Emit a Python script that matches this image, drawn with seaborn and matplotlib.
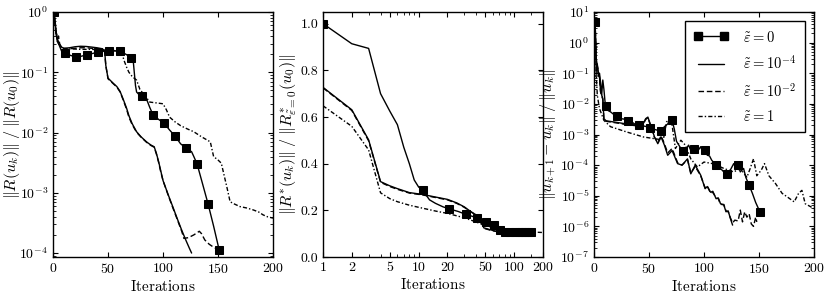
# convergence plots, three panels
import numpy as np
import pandas as pd
import seaborn as sns
import matplotlib.pyplot as plt
from matplotlib.lines import Line2D
from matplotlib.ticker import FixedLocator, NullFormatter, LogLocator, FixedFormatter

sns.set_style("ticks")
plt.rcParams.update({
    "font.family": "serif",
    "font.serif": ["cmr10", "DejaVu Serif"],
    "mathtext.fontset": "cm",
    "axes.formatter.use_mathtext": True,
    "font.size": 10,
    "axes.edgecolor": "black",
    "axes.labelcolor": "black",
    "text.color": "black",
    "xtick.color": "black",
    "ytick.color": "black",
    "axes.linewidth": 1.0,
    "xtick.direction": "in",
    "ytick.direction": "in",
    "xtick.top": True,
    "ytick.right": True,
    "xtick.major.size": 3.5,
    "ytick.major.size": 3.5,
    "xtick.minor.size": 2,
    "ytick.minor.size": 2,
    "xtick.labelsize": 10,
    "ytick.labelsize": 10,
    "axes.labelsize": 11,
})

# ---- panel 1 : ||R(u_k)|| / ||R(u_0)|| ----
p1_it_e0 = [1, 3, 5, 8, 11, 16, 21, 26, 31, 36, 41, 46, 51, 56, 61, 66, 71, 73, 75, 76, 78, 81,
            85, 88, 91, 96, 101, 106, 111, 116, 121, 126, 128, 131, 136, 141, 146, 151]
p1_e0 = [1.0, 0.45, 0.3, 0.22, 0.21, 0.19, 0.18, 0.185, 0.196, 0.205, 0.217, 0.225, 0.228, 0.226,
         0.223, 0.2, 0.175, 0.15, 0.06, 0.047, 0.043, 0.040, 0.036, 0.026, 0.0195, 0.0165, 0.0143,
         0.011, 0.0087, 0.0065, 0.0055, 0.0048, 0.004, 0.003, 0.0014, 0.00065, 0.00028, 0.000114]
p1_it_e4 = [1, 2, 3, 5, 8, 10, 15, 20, 25, 30, 35, 40, 45, 47, 48, 50, 55, 58, 61, 64, 67, 69, 72,
            76, 80, 85, 89, 92, 94, 96, 98, 100, 105, 109, 113, 117, 121, 124, 126]
p1_e4 = [1.0, 0.6, 0.4, 0.3, 0.26, 0.25, 0.255, 0.265, 0.27, 0.268, 0.262, 0.255, 0.245, 0.22,
         0.13, 0.08, 0.065, 0.058, 0.048, 0.035, 0.025, 0.019, 0.014, 0.0103, 0.0085, 0.007,
         0.0062, 0.0058, 0.0045, 0.0033, 0.0023, 0.0016, 0.0009, 0.00058, 0.00037, 0.00024,
         0.00016, 0.00012, 0.0001]
p1_it_e2 = [1, 2, 4, 5, 6, 8, 10, 15, 20, 25, 30, 35, 40, 45, 47, 48, 50, 55, 58, 61, 64, 67, 69,
            72, 76, 80, 85, 89, 92, 94, 96, 98, 100, 105, 109, 113, 117, 119, 123, 128, 133, 135,
            138, 142, 146, 151]
p1_e2 = [1.0, 0.55, 0.32, 0.4, 0.3, 0.25, 0.24, 0.245, 0.25, 0.255, 0.255, 0.25, 0.245, 0.24,
         0.215, 0.13, 0.078, 0.064, 0.057, 0.047, 0.034, 0.024, 0.018, 0.0135, 0.0101, 0.0084,
         0.0069, 0.0061, 0.0057, 0.0044, 0.0032, 0.0022, 0.0016, 0.00088, 0.00056, 0.00036,
         0.00023, 0.000175, 0.00018, 0.0002, 0.00023, 0.00021, 0.000165, 0.00014, 0.000125,
         0.000112]
p1_it_e1 = [1, 3, 5, 8, 15, 25, 35, 45, 55, 62, 65, 67, 69, 72, 76, 79, 84, 88, 94, 100, 103, 106,
            111, 116, 122, 128, 135, 143, 146, 150, 153, 156, 158, 161, 165, 170, 176, 182, 187,
            191, 195, 200]
p1_e1 = [1.0, 0.45, 0.3, 0.25, 0.245, 0.24, 0.24, 0.235, 0.23, 0.22, 0.15, 0.12, 0.10, 0.085,
         0.074, 0.052, 0.04, 0.032, 0.031, 0.030, 0.024, 0.018, 0.015, 0.013, 0.0115, 0.0103,
         0.0085, 0.007, 0.004, 0.0035, 0.0031, 0.0018, 0.00126, 0.00071, 0.00065, 0.00059,
         0.00056, 0.00052, 0.00048, 0.00043, 0.0004, 0.00038]

# ---- panel 2 : ||R*(u_k)|| / ||R*_{eps=0}(u_0)|| ----
p2_it_e0 = [1, 2, 3, 4, 5, 6, 7, 8, 9, 10, 11, 12, 13, 15, 18, 21, 26, 31, 36, 41, 46, 51, 56,
            61, 66, 71, 76, 81, 91, 101, 111, 121, 131, 141, 151]
p2_e0 = [1.0, 0.914, 0.894, 0.70, 0.625, 0.567, 0.47, 0.40, 0.33, 0.30, 0.287, 0.265, 0.245,
         0.23, 0.215, 0.206, 0.195, 0.183, 0.175, 0.167, 0.16, 0.152, 0.144, 0.136, 0.127, 0.116,
         0.109, 0.107, 0.107, 0.108, 0.108, 0.108, 0.108, 0.108, 0.108]
p2_it_e4 = [1, 2, 3, 4, 5, 6, 8, 11, 15, 20, 25, 30, 35, 42, 45, 48, 55, 62, 71, 80, 90, 100, 126]
p2_e4 = [0.727, 0.631, 0.502, 0.323, 0.305, 0.293, 0.276, 0.268, 0.257, 0.247, 0.232, 0.215,
         0.195, 0.175, 0.155, 0.125, 0.118, 0.112, 0.108, 0.106, 0.106, 0.106, 0.106]
p2_it_e2 = [1, 2, 3, 4, 5, 6, 8, 11, 15, 20, 25, 30, 35, 42, 45, 48, 55, 62, 71, 80, 90, 100, 151]
p2_e2 = [0.725, 0.628, 0.498, 0.32, 0.302, 0.29, 0.274, 0.266, 0.255, 0.245, 0.23, 0.213, 0.194,
         0.174, 0.152, 0.123, 0.116, 0.111, 0.107, 0.106, 0.106, 0.106, 0.106]
p2_it_e1 = [1, 2, 3, 4, 5, 6, 8, 10, 15, 20, 30, 37, 45, 56, 70, 90, 120, 150, 200]
p2_e1 = [0.648, 0.56, 0.459, 0.275, 0.25, 0.237, 0.222, 0.213, 0.197, 0.187, 0.168, 0.155,
         0.142, 0.129, 0.12, 0.115, 0.11, 0.107, 0.105]

# ---- panel 3 : ||u_{k+1} - u_k|| / ||u_k|| ----
p3_it_e0 = [1, 2, 3, 4, 5, 6, 7, 8, 9, 10, 11, 13, 15, 18, 21, 24, 27, 31, 34, 37, 41, 45, 48,
            51, 54, 57, 61, 64, 67, 69, 71, 73, 75, 78, 81, 84, 86, 88, 91, 94, 97, 99, 101, 103,
            105, 107, 109, 111, 113, 115, 118, 121, 124, 127, 129, 131, 133, 136, 138, 141, 144,
            147, 151]
p3_e0 = [4.7, 0.12, 0.2, 0.08, 0.1, 0.05, 0.02, 0.06, 0.03, 0.012, 0.0085, 0.006, 0.0055, 0.0045,
         0.0039, 0.0033, 0.0032, 0.0028, 0.0026, 0.0022, 0.0021, 0.0019, 0.0018, 0.0016, 0.0015,
         0.0014, 0.00134, 0.0018, 0.0022, 0.0030, 0.0029, 0.0015, 0.0006, 0.0004, 0.00028,
         0.00035, 0.00045, 0.0003, 0.00033, 0.00028, 0.0004, 0.00025, 0.00031, 0.00021, 0.0002,
         0.000145, 0.00012, 0.0001, 0.00011, 7.8e-5, 6e-5, 5e-5, 7e-5, 0.000112, 8e-5, 0.0001,
         6e-5, 7.8e-5, 4e-5, 2.2e-5, 1.2e-5, 6e-6, 2.9e-6]
p3_it_e4 = [1, 2, 3, 4, 5, 6, 8, 9, 11, 20, 30, 40, 44, 47, 49, 52, 55, 58, 61, 64, 67, 71, 76,
            80, 85, 88, 92, 97, 101, 103, 106, 108, 111, 113, 115, 118, 120, 122, 124, 126]
p3_e4 = [4.7, 0.3, 0.18, 0.1, 0.076, 0.025, 0.015, 0.0033, 0.0028, 0.0025, 0.0022, 0.002, 0.002,
         0.0033, 0.0037, 0.0018, 0.00083, 0.0005, 0.00083, 0.00045, 0.00021, 0.0003, 0.000112,
         0.0001, 0.00016, 5.2e-5, 0.0001, 4.7e-5, 1.7e-5, 2e-5, 1.3e-5, 1.4e-5, 8e-6, 8.5e-6,
         5.5e-6, 5e-6, 3e-6, 3.2e-6, 1.8e-6, 1.1e-6]
p3_it_e2 = [1, 2, 3, 4, 5, 6, 8, 9, 11, 20, 30, 40, 44, 47, 49, 52, 55, 58, 61, 64, 67, 71, 76,
            80, 85, 88, 92, 97, 101, 103, 106, 108, 111, 113, 115, 118, 120, 122, 124, 126, 128,
            131, 133, 135, 137, 139, 141, 143, 145, 147, 148]
p3_e2 = [4.7, 0.28, 0.17, 0.11, 0.07, 0.024, 0.014, 0.0032, 0.0027, 0.0024, 0.0021, 0.0019,
         0.0019, 0.0031, 0.0035, 0.0017, 0.0008, 0.00055, 0.0009, 0.0005, 0.00025, 0.00035,
         0.00012, 0.0001, 0.00015, 5.5e-5, 9e-5, 4.5e-5, 1.8e-5, 2.1e-5, 1.2e-5, 1.3e-5, 8.5e-6,
         8e-6, 5.2e-6, 5.2e-6, 3.2e-6, 3e-6, 1.9e-6, 1.3e-6, 1.6e-6, 1.5e-6, 3.4e-6, 1.4e-6,
         3e-6, 2e-6, 2.6e-6, 1.2e-6, 1e-6, 2e-6, 1.4e-6]
p3_it_e1 = [1, 2, 3, 5, 9, 15, 30, 45, 54, 63, 66, 69, 71, 74, 79, 83, 88, 94, 100, 109, 118,
            127, 133, 139, 142, 145, 148, 152, 155, 159, 165, 171, 176, 182, 186, 189, 192, 200]
p3_e1 = [4.7, 0.1, 0.019, 0.007, 0.0029, 0.0018, 0.0012, 0.00083, 0.00074, 0.00066, 0.0026,
         0.0031, 0.002, 0.00035, 0.00065, 0.00045, 0.00016, 8.7e-5, 0.000126, 0.00011, 7.8e-5,
         6e-5, 7.8e-5, 4e-5, 7.8e-5, 0.00016, 4.5e-5, 6.8e-5, 0.000112, 4.5e-5, 2.5e-5, 1.2e-5,
         9e-6, 6.3e-6, 1.2e-5, 1.5e-5, 5.5e-6, 3.8e-6]

labels = [r"$\tilde{\varepsilon} = 0$", r"$\tilde{\varepsilon} = 10^{-4}$",
          r"$\tilde{\varepsilon} = 10^{-2}$", r"$\tilde{\varepsilon} = 1$"]
styles = ["-", "-", (0, (4, 2)), (0, (3, 1.5, 1, 1.5))]

panels = [
    [(p1_it_e0, p1_e0), (p1_it_e4, p1_e4), (p1_it_e2, p1_e2), (p1_it_e1, p1_e1)],
    [(p2_it_e0, p2_e0), (p2_it_e4, p2_e4), (p2_it_e2, p2_e2), (p2_it_e1, p2_e1)],
    [(p3_it_e0, p3_e0), (p3_it_e4, p3_e4), (p3_it_e2, p3_e2), (p3_it_e1, p3_e1)],
]
ylabels = [r"$\|R(u_k)\|\;/\;\|R(u_0)\|$",
           r"$\|R^{*}(u_k)\|\;/\;\|R^{*}_{\tilde{\varepsilon}=0}(u_0)\|$",
           r"$\|u_{k+1}-u_k\|\;/\;\|u_k\|$"]
# x position (axes fraction) of the y label's right edge
ylabel_x = [-0.14, -0.11, -0.165]

fig = plt.figure(figsize=(8.3, 2.97), dpi=100)
lefts = [53 / 830, 323 / 830, 594 / 830]
axes = [fig.add_axes([l, 40 / 297, 220 / 830, 245 / 297]) for l in lefts]

for k, ax in enumerate(axes):
    for j, (xs, ys) in enumerate(panels[k][::-1]):
        j = 3 - j
        kw = dict(color="black", linewidth=1.0, linestyle=styles[j])
        if j == 0:
            kw.update(marker="s", markersize=5.5, markeredgecolor="black",
                      markevery=[i for i, it in enumerate(xs) if (it - 1) % 10 == 0])
        sns.lineplot(x=xs, y=ys, ax=ax, **kw)
    ax.set_xlabel(r"$\mathrm{Iterations}$", labelpad=2)
    ax.set_ylabel(ylabels[k], fontsize=11.5)
    ax.yaxis.set_label_coords(ylabel_x[k], 0.5)

# panel 1
ax = axes[0]
ax.set_yscale("log")
ax.set_xlim(0, 200)
ax.set_ylim(8.6e-5, 1)
ax.set_xticks([0, 50, 100, 150, 200])
ax.yaxis.set_major_locator(LogLocator(base=10, numticks=20))
ax.yaxis.set_minor_locator(LogLocator(base=10, subs=np.arange(2, 10), numticks=20))

# panel 2
ax = axes[1]
ax.set_xscale("log")
ax.set_xlim(1, 200)
ax.set_ylim(0, 1.05)
ax.set_yticks([0.0, 0.2, 0.4, 0.6, 0.8, 1.0])
ax.set_yticklabels(["0.0", "0.2", "0.4", "0.6", "0.8", "1.0"])
xmaj = [1, 2, 5, 10, 20, 50, 100, 200]
ax.xaxis.set_major_locator(FixedLocator(xmaj))
ax.xaxis.set_major_formatter(FixedFormatter([str(v) for v in xmaj]))
ax.xaxis.set_minor_locator(FixedLocator([3, 4, 6, 7, 8, 9, 30, 40, 60, 70, 80, 90, 150]))
ax.xaxis.set_minor_formatter(NullFormatter())
ax.tick_params(axis="x", which="minor", length=2)

# panel 3
ax = axes[2]
ax.set_yscale("log")
ax.set_xlim(0, 200)
ax.set_ylim(1e-7, 10)
ax.set_xticks([0, 50, 100, 150, 200])
ax.yaxis.set_major_locator(LogLocator(base=10, numticks=20))
ax.yaxis.set_minor_locator(LogLocator(base=10, subs=np.arange(2, 10), numticks=20))

handles = [Line2D([], [], color="black", lw=1.0, linestyle=styles[0], marker="s", markersize=5.5),
           Line2D([], [], color="black", lw=1.0, linestyle=styles[1]),
           Line2D([], [], color="black", lw=1.0, linestyle=styles[2]),
           Line2D([], [], color="black", lw=1.0, linestyle=styles[3])]
leg = ax.legend(handles, labels, loc="upper right", fontsize=10.5, numpoints=2,
                fancybox=False, framealpha=1, edgecolor="black", handlelength=2.4,
                borderpad=0.6, labelspacing=0.65, handletextpad=1.0,
                borderaxespad=0.6)
leg.get_frame().set_linewidth(1.0)

fig.savefig("out.png", dpi=100)
